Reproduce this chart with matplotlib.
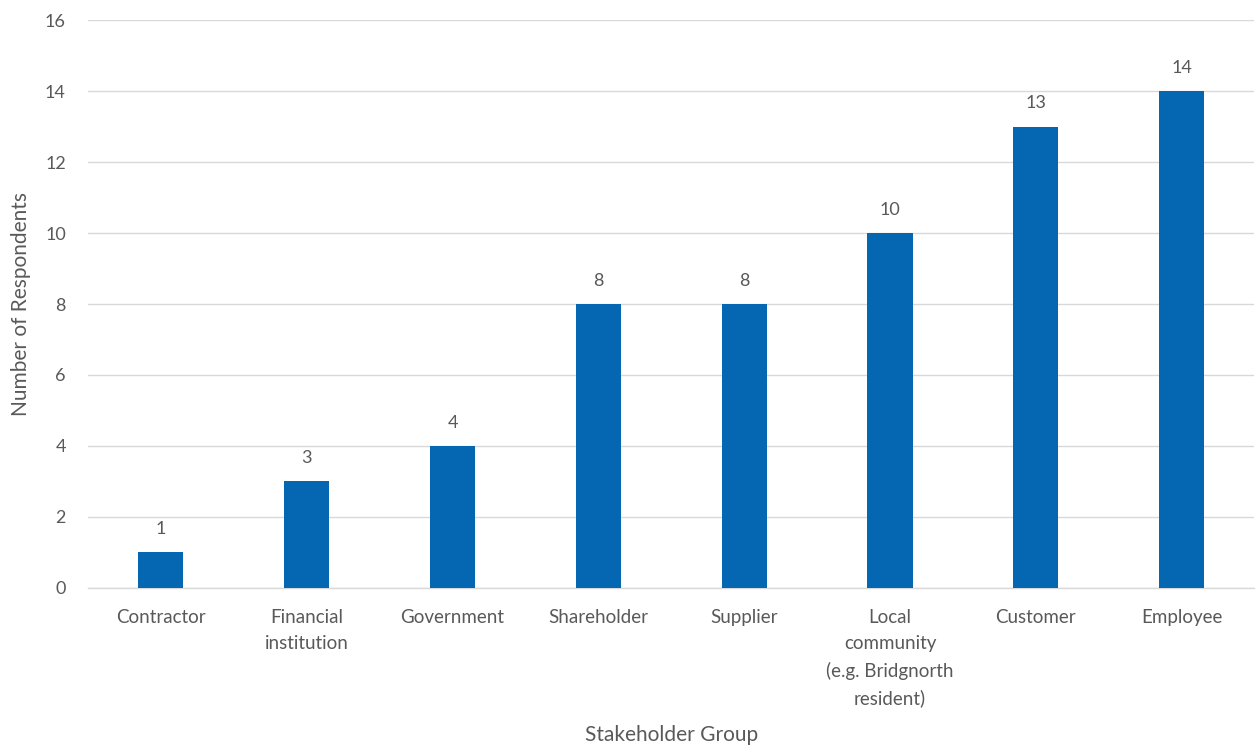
import matplotlib.pyplot as plt

# Survey responses by stakeholder group
groups = ['Contractor', 'Financial\ninstitution', 'Government', 'Shareholder',
          'Supplier', 'Local\ncommunity\n(e.g. Bridgnorth\nresident)', 'Customer', 'Employee']
respondents = [1, 3, 4, 8, 8, 10, 13, 14]
y_ticks = [0, 2, 4, 6, 8, 10, 12, 14, 16]

TEXT = '#595959'
BAR = '#0566B1'
GRID = '#D9D9D9'

plt.rcParams['font.family'] = ['Lato', 'DejaVu Sans']

fig = plt.figure(figsize=(12.57, 7.47), dpi=100)
ax = fig.add_axes([0.070, 0.213, 0.928, 0.760])

x = range(len(groups))
bars = ax.bar(x, respondents, width=0.31, color=BAR, zorder=3)
ax.bar_label(bars, labels=[str(v) for v in respondents], padding=11,
             fontsize=13, color=TEXT)

ax.set_xlim(-0.5, len(groups) - 0.5)
ax.set_ylim(0, 16)
ax.set_yticks(y_ticks)
ax.set_xticks(list(x))
ax.set_xticklabels(groups, fontsize=13.5, color=TEXT, linespacing=1.65)
ax.tick_params(axis='y', labelsize=13, labelcolor=TEXT, length=0, pad=16)
ax.tick_params(axis='x', length=0, pad=15)

ax.grid(axis='y', color=GRID, linewidth=1, zorder=0)
for side in ['top', 'right', 'left']:
    ax.spines[side].set_visible(False)
ax.spines['bottom'].set_color(GRID)
ax.spines['bottom'].set_linewidth(1)

ax.set_xlabel('Stakeholder Group', fontsize=15, color=TEXT, labelpad=13)
ax.set_ylabel('Number of Respondents', fontsize=15, color=TEXT, labelpad=10)

fig.savefig('out.png', dpi=100)
